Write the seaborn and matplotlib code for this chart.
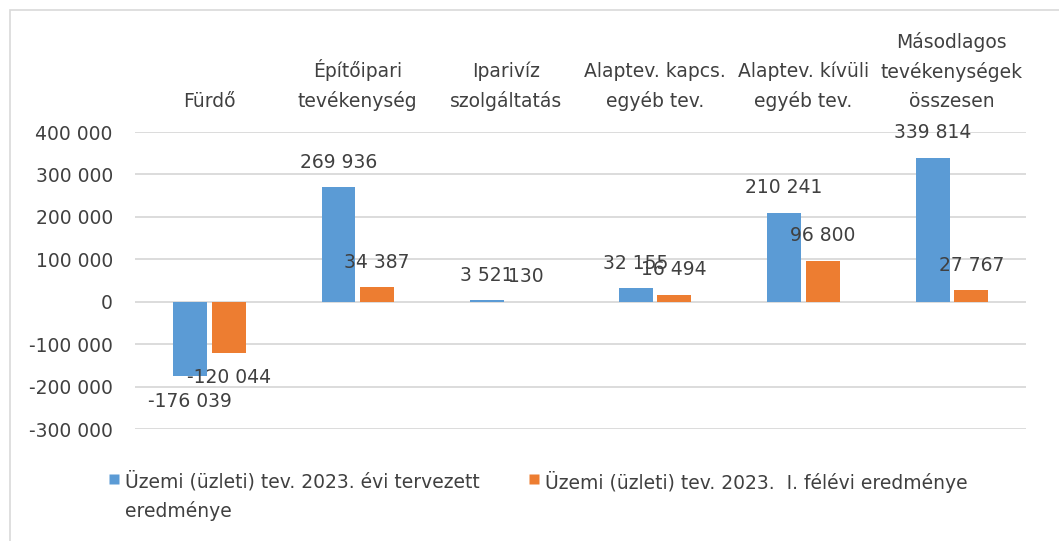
import matplotlib
matplotlib.use("Agg")
from matplotlib import pyplot as plt
from matplotlib.lines import Line2D
from matplotlib.patches import Rectangle
from matplotlib.ticker import FuncFormatter, MultipleLocator
import pandas as pd
import seaborn as sb

# data
categories = ["Fürdő", "Építőipari\ntevékenység", "Iparivíz\nszolgáltatás",
              "Alaptev. kapcs.\negyéb tev.", "Alaptev. kívüli\negyéb tev.",
              "Másodlagos\ntevékenységek\nösszesen"]
planned = [-176039, 269936, 3521, 32155, 210241, 339814]
half_year = [-120044, 34387, 130, 16494, 96800, 27767]
series_names = ["Üzemi (üzleti) tev. 2023. évi tervezett\neredménye",
                "Üzemi (üzleti) tev. 2023.  I. félévi eredménye"]
colors = ["#5B9BD5", "#ED7D31"]
text_col = "#404040"

df = pd.DataFrame({
    "kat": categories * 2,
    "ertek": planned + half_year,
    "sorozat": [series_names[0]] * len(categories) + [series_names[1]] * len(categories),
})

def fmt(v, pos=None):
    return f"{int(round(v)):,}".replace(",", " ")

sb.set_style("white")
plt.rcParams["font.family"] = ["DejaVu Sans"]
fs = 13.5

fig = plt.figure(figsize=(10.59, 5.41), dpi=100)
ax = fig.add_axes([0.1275, 0.207, 0.8415, 0.549])

sb.barplot(data=df, x="kat", y="ertek", hue="sorozat", palette=colors,
           width=0.52, gap=0.12, ax=ax, legend=False, saturation=1,
           edgecolor="none", errorbar=None)

ax.set_ylim(-300000, 400000)
ax.set_xlim(-0.5, len(categories) - 0.5)
ax.yaxis.set_major_locator(MultipleLocator(100000))
ax.yaxis.set_major_formatter(FuncFormatter(fmt))
ax.grid(axis="y", color="#D9D9D9", linewidth=1.3)
ax.set_axisbelow(True)
for s in ax.spines.values():
    s.set_visible(False)

ax.set_xlabel("")
ax.set_ylabel("")
ax.tick_params(axis="x", bottom=False, labelbottom=False, top=True, labeltop=True,
               length=0, pad=15, labelsize=fs, labelcolor=text_col)
ax.tick_params(axis="y", length=0, pad=16, labelsize=fs, labelcolor=text_col)
for lab in ax.get_xticklabels():
    lab.set_linespacing(1.65)

for cont in ax.containers:
    ax.bar_label(cont, labels=[fmt(b.get_height()) for b in cont], padding=11,
                 fontsize=fs, color=text_col)

handles = [Line2D([], [], marker="s", linestyle="none", markersize=7,
                  markerfacecolor=c, markeredgecolor="none") for c in colors]
leg = fig.legend(handles, series_names, loc="upper left", bbox_to_anchor=(0.0965, 0.144),
                 ncol=2, frameon=False, fontsize=fs, labelcolor=text_col,
                 handlelength=0.5, handleheight=1.3, handletextpad=0.3,
                 columnspacing=2.68, borderaxespad=0)
for t in leg.get_texts():
    t.set_linespacing(1.6)
# square next to the first line of the wrapped entry, both entries on one row
leg._legend_handle_box.align = "top"
for col in leg._legend_handle_box.get_children():
    for row in col.get_children():
        row.align = "top"

# chart area border, partially cut off like in the screenshot
fig.patches.append(Rectangle((10 / 1059, -0.5), 2, 0.5 + (1 - 10 / 541),
                             transform=fig.transFigure, fill=False,
                             edgecolor="#D9D9D9", linewidth=1.2))

fig.savefig("out.png", dpi=100)
